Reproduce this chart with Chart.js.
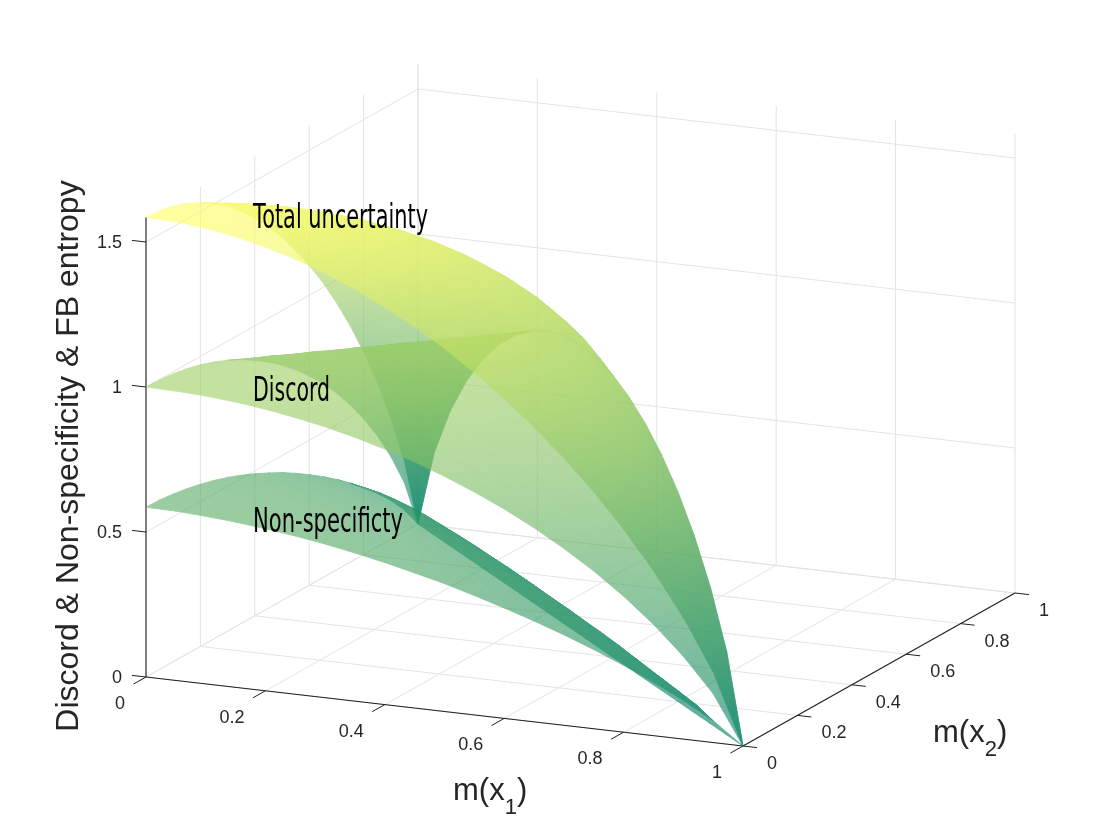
<!DOCTYPE html>
<html><head><meta charset="utf-8">
<script src="https://cdn.jsdelivr.net/npm/chart.js@4.4.1/dist/chart.umd.min.js"></script>
<style>
html,body{margin:0;padding:0;background:#fff;}
#wrap{position:relative;width:1120px;height:840px;background:#fff;overflow:hidden;}
#wrap canvas{position:absolute;left:0;top:0;}
#wrap canvas.surf{opacity:0.62;}
</style></head>
<body><div id="wrap"></div>
<script>
// ---------------- data ----------------
const m1Values = [0,0.05,0.1,0.15,0.2,0.25,0.3,0.35,0.4,0.45,0.5,0.55,0.6,0.65,0.7,0.75,0.8,0.85,0.9,0.95,1];
const m2Values = [0,0.05,0.1,0.15,0.2,0.25,0.3,0.35,0.4,0.45,0.5,0.55,0.6,0.65,0.7,0.75,0.8,0.85,0.9,0.95,1];
// rows: m(x1) = m1Values[i]; columns: m(x2) = m2Values[j], for j <= 20 - i
const totalUncertainty = [
 [1.585,1.582,1.571,1.554,1.530,1.500,1.464,1.421,1.371,1.315,1.252,1.181,1.103,1.017,0.922,0.817,0.700,0.569,0.420,0.244,0.000],
 [1.582,1.581,1.574,1.560,1.540,1.512,1.479,1.439,1.392,1.339,1.279,1.212,1.137,1.054,0.962,0.861,0.748,0.621,0.474,0.286],
 [1.571,1.574,1.570,1.559,1.541,1.517,1.486,1.448,1.404,1.353,1.295,1.230,1.157,1.076,0.985,0.884,0.770,0.639,0.469],
 [1.554,1.560,1.559,1.551,1.535,1.513,1.484,1.448,1.406,1.357,1.300,1.236,1.164,1.083,0.992,0.888,0.768,0.610],
 [1.530,1.540,1.541,1.535,1.522,1.502,1.475,1.441,1.400,1.351,1.296,1.232,1.159,1.076,0.982,0.870,0.722],
 [1.500,1.512,1.517,1.513,1.502,1.483,1.458,1.425,1.385,1.337,1.281,1.216,1.141,1.055,0.951,0.811],
 [1.464,1.479,1.486,1.484,1.475,1.458,1.433,1.401,1.361,1.313,1.256,1.188,1.109,1.014,0.881],
 [1.421,1.439,1.448,1.448,1.441,1.425,1.401,1.369,1.329,1.279,1.219,1.148,1.059,0.934],
 [1.371,1.392,1.404,1.406,1.400,1.385,1.361,1.329,1.287,1.235,1.170,1.089,0.971],
 [1.315,1.339,1.353,1.357,1.351,1.337,1.313,1.279,1.235,1.178,1.104,0.993],
 [1.252,1.279,1.295,1.300,1.296,1.281,1.256,1.219,1.170,1.104,1.000],
 [1.181,1.212,1.230,1.236,1.232,1.216,1.188,1.148,1.089,0.993],
 [1.103,1.137,1.157,1.164,1.159,1.141,1.109,1.059,0.971],
 [1.017,1.054,1.076,1.083,1.076,1.055,1.014,0.934],
 [0.922,0.962,0.985,0.992,0.982,0.951,0.881],
 [0.817,0.861,0.884,0.888,0.870,0.811],
 [0.700,0.748,0.770,0.768,0.722],
 [0.569,0.621,0.639,0.610],
 [0.420,0.474,0.469],
 [0.244,0.286],
 [0.000]
];
const discord = [
 [1.000,0.998,0.993,0.984,0.971,0.954,0.934,0.910,0.881,0.849,0.811,0.769,0.722,0.669,0.610,0.544,0.469,0.384,0.286,0.169,0.000],
 [0.998,1.000,0.998,0.993,0.984,0.971,0.954,0.934,0.910,0.881,0.849,0.811,0.769,0.722,0.669,0.610,0.544,0.469,0.384,0.286],
 [0.993,0.998,1.000,0.998,0.993,0.984,0.971,0.954,0.934,0.910,0.881,0.849,0.811,0.769,0.722,0.669,0.610,0.544,0.469],
 [0.984,0.993,0.998,1.000,0.998,0.993,0.984,0.971,0.954,0.934,0.910,0.881,0.849,0.811,0.769,0.722,0.669,0.610],
 [0.971,0.984,0.993,0.998,1.000,0.998,0.993,0.984,0.971,0.954,0.934,0.910,0.881,0.849,0.811,0.769,0.722],
 [0.954,0.971,0.984,0.993,0.998,1.000,0.998,0.993,0.984,0.971,0.954,0.934,0.910,0.881,0.849,0.811],
 [0.934,0.954,0.971,0.984,0.993,0.998,1.000,0.998,0.993,0.984,0.971,0.954,0.934,0.910,0.881],
 [0.910,0.934,0.954,0.971,0.984,0.993,0.998,1.000,0.998,0.993,0.984,0.971,0.954,0.934],
 [0.881,0.910,0.934,0.954,0.971,0.984,0.993,0.998,1.000,0.998,0.993,0.984,0.971],
 [0.849,0.881,0.910,0.934,0.954,0.971,0.984,0.993,0.998,1.000,0.998,0.993],
 [0.811,0.849,0.881,0.910,0.934,0.954,0.971,0.984,0.993,0.998,1.000],
 [0.769,0.811,0.849,0.881,0.910,0.934,0.954,0.971,0.984,0.993],
 [0.722,0.769,0.811,0.849,0.881,0.910,0.934,0.954,0.971],
 [0.669,0.722,0.769,0.811,0.849,0.881,0.910,0.934],
 [0.610,0.669,0.722,0.769,0.811,0.849,0.881],
 [0.544,0.610,0.669,0.722,0.769,0.811],
 [0.469,0.544,0.610,0.669,0.722],
 [0.384,0.469,0.544,0.610],
 [0.286,0.384,0.469],
 [0.169,0.286],
 [0.000]
];
const nonSpecificity = [
 [0.585,0.584,0.578,0.570,0.559,0.546,0.530,0.511,0.490,0.466,0.441,0.412,0.381,0.348,0.312,0.273,0.231,0.185,0.134,0.075,0.000],
 [0.584,0.581,0.576,0.567,0.556,0.541,0.525,0.505,0.482,0.458,0.430,0.401,0.368,0.332,0.293,0.251,0.204,0.152,0.090,0.000],
 [0.578,0.576,0.570,0.561,0.548,0.533,0.515,0.494,0.470,0.443,0.414,0.381,0.346,0.307,0.263,0.215,0.160,0.095,0.000],
 [0.570,0.567,0.561,0.551,0.537,0.520,0.500,0.477,0.452,0.423,0.390,0.355,0.315,0.272,0.223,0.166,0.099,0.000],
 [0.559,0.556,0.548,0.537,0.522,0.504,0.482,0.457,0.429,0.397,0.362,0.322,0.278,0.227,0.171,0.101,0.000],
 [0.546,0.541,0.533,0.520,0.504,0.483,0.460,0.432,0.401,0.366,0.327,0.282,0.231,0.174,0.102,0.000],
 [0.530,0.525,0.515,0.500,0.482,0.460,0.433,0.403,0.368,0.329,0.285,0.234,0.175,0.104,0.000],
 [0.511,0.505,0.494,0.477,0.457,0.432,0.403,0.369,0.331,0.286,0.235,0.177,0.105,0.000],
 [0.490,0.482,0.470,0.452,0.429,0.401,0.368,0.331,0.287,0.237,0.177,0.105,0.000],
 [0.466,0.458,0.443,0.423,0.397,0.366,0.329,0.286,0.237,0.178,0.106,0.000],
 [0.441,0.430,0.414,0.390,0.362,0.327,0.285,0.235,0.177,0.106,0.000],
 [0.412,0.401,0.381,0.355,0.322,0.282,0.234,0.177,0.105,0.000],
 [0.381,0.368,0.346,0.315,0.278,0.231,0.175,0.105,0.000],
 [0.348,0.332,0.307,0.272,0.227,0.174,0.104,0.000],
 [0.312,0.293,0.263,0.223,0.171,0.102,0.000],
 [0.273,0.251,0.215,0.166,0.101,0.000],
 [0.231,0.204,0.160,0.099,0.000],
 [0.185,0.152,0.095,0.000],
 [0.134,0.090,0.000],
 [0.075,0.000],
 [0.000]
];
const surfaceNames = ['Total uncertainty','Discord','Non-specificty'];
const x1Ticks = [0,0.2,0.4,0.6,0.8,1];
const x1TickLabels = ['0','0.2','0.4','0.6','0.8','1'];
const x2Ticks = [0,0.2,0.4,0.6,0.8,1];
const x2TickLabels = ['0','0.2','0.4','0.6','0.8','1'];
const zTicks = [0,0.5,1,1.5];
const zTickLabels = ['0','0.5','1','1.5'];
const zLimit = 1.585;
const zLabel = 'Discord & Non-specificity & FB entropy';

// ---------------- view / layout ----------------
const VIEW = { ox:146, oy:677, ax:597, ay:69, bx:272, by:-153, cz:-290 };
function proj(a,b,z){ return { x: VIEW.ox + VIEW.ax*a + VIEW.bx*b, y: VIEW.oy + VIEW.ay*a + VIEW.by*b + VIEW.cz*z }; }
const LABELS = [
  {x:253, y:228, w:175},
  {x:253, y:401, w:77},
  {x:253, y:532, w:150}
];
const GRID = '#e3e3e3', AXIS = '#202020';
const W = 1120, H = 840;

function makeCanvas(cls){
  const c = document.createElement('canvas');
  c.width = W; c.height = H;
  if (cls) c.className = cls;
  document.getElementById('wrap').appendChild(c);
  return c;
}
function commonOptions(){
  return {
    responsive:false, animation:false, events:[],
    layout:{padding:0},
    plugins:{legend:{display:false}, tooltip:{enabled:false}},
    scales:{
      x:{type:'linear', min:0, max:W, display:false},
      y:{type:'linear', min:0, max:H, reverse:true, display:false}
    },
    elements:{point:{radius:0}, line:{tension:0}}
  };
}
function px(chart, p){ return { x: chart.scales.x.getPixelForValue(p.x), y: chart.scales.y.getPixelForValue(p.y) }; }
// lower "order" values are drawn on top
function lineDs(p,q,color,w,order){ return { data:[p,q], borderColor:color, borderWidth:w, pointRadius:0, fill:false, tension:0, borderCapStyle:'butt', order:order }; }

// ---------------- base chart: grid, axes, ticks, labels ----------------
const baseDatasets = [];
x1Ticks.forEach(a => baseDatasets.push(lineDs(proj(a,0,0), proj(a,1,0), GRID, 1, 2)));
x2Ticks.forEach(b => baseDatasets.push(lineDs(proj(0,b,0), proj(1,b,0), GRID, 1, 2)));
x2Ticks.forEach(b => baseDatasets.push(lineDs(proj(0,b,0), proj(0,b,zLimit), GRID, 1, 2)));
zTicks.forEach(z => baseDatasets.push(lineDs(proj(0,0,z), proj(0,1,z), GRID, 1, 2)));
x1Ticks.forEach(a => baseDatasets.push(lineDs(proj(a,1,0), proj(a,1,zLimit), GRID, 1, 2)));
zTicks.forEach(z => baseDatasets.push(lineDs(proj(0,1,z), proj(1,1,z), GRID, 1, 2)));
baseDatasets.push(lineDs(proj(0,0,0), proj(1,0,0), AXIS, 1.1, 1));
baseDatasets.push(lineDs(proj(1,0,0), proj(1,1,0), AXIS, 1.1, 1));
baseDatasets.push(lineDs(proj(0,0,0), proj(0,0,zLimit), AXIS, 1.1, 1));
zTicks.forEach(z => baseDatasets.push(lineDs(proj(0,0,z), proj(-0.0235,0,z), AXIS, 1, 1)));
x1Ticks.forEach(a => baseDatasets.push(lineDs(proj(a,0,0), proj(a,-0.046,0), AXIS, 1, 1)));
x2Ticks.forEach(b => baseDatasets.push(lineDs(proj(1,b,0), proj(1.0235,b,0), AXIS, 1, 1)));

const FONT = '"Liberation Sans", Arial, Helvetica, sans-serif';
function drawSubLabel(ctx, x, y, main, sub, size){
  ctx.textAlign = 'left'; ctx.textBaseline = 'alphabetic';
  ctx.font = size + 'px ' + FONT;
  ctx.fillText(main, x, y);
  let cx = x + ctx.measureText(main).width;
  ctx.font = Math.round(size*0.72) + 'px ' + FONT;
  ctx.fillText(sub, cx, y + 14);
  cx += ctx.measureText(sub).width;
  ctx.font = size + 'px ' + FONT;
  ctx.fillText(')', cx, y);
}
const axisText = {
  id:'axisText',
  afterDatasetsDraw(chart){
    const ctx = chart.ctx;
    ctx.save();
    ctx.fillStyle = '#262626';
    ctx.font = '18px ' + FONT;
    ctx.textBaseline = 'middle';
    ctx.textAlign = 'right';
    zTicks.forEach((z,i) => { const p = px(chart, proj(0,0,z)); ctx.fillText(zTickLabels[i], p.x-24, p.y+1); });
    x1Ticks.forEach((a,i) => { const p = px(chart, proj(a,0,0)); ctx.fillText(x1TickLabels[i], p.x-21, p.y+27); });
    ctx.textAlign = 'left';
    x2Ticks.forEach((b,i) => { const p = px(chart, proj(1,b,0)); ctx.fillText(x2TickLabels[i], p.x+24, p.y+18); });
    const zl = px(chart, {x:69, y:456});
    ctx.save();
    ctx.translate(zl.x, zl.y); ctx.rotate(-Math.PI/2);
    ctx.textAlign = 'center'; ctx.textBaseline = 'middle';
    ctx.font = '32px ' + FONT;
    ctx.fillText(zLabel, 0, 0);
    ctx.restore();
    const l1 = px(chart, {x:453, y:800});
    drawSubLabel(ctx, l1.x, l1.y, 'm(x', '1', 31);
    const l2 = px(chart, {x:933, y:742});
    drawSubLabel(ctx, l2.x, l2.y, 'm(x', '2', 31);
    ctx.restore();
  }
};
new Chart(makeCanvas(), { type:'line', data:{datasets:baseDatasets}, options:commonOptions(), plugins:[axisText] });

// ---------------- surfaces ----------------
function summer(t){
  t = Math.max(0, Math.min(1, t));
  return 'rgb(' + Math.round(255*t) + ',' + Math.round(255*(0.5+0.5*t)) + ',102)';
}
function shade(chart, tri){
  const zs = tri.map(v => v.z);
  const zlo = Math.min(...zs), zhi = Math.max(...zs);
  const flat = summer((zlo+zhi)/2/zLimit);
  if (!chart || !chart.scales || !chart.scales.x || !chart.chartArea) return flat;
  const P = tri.map(v => { const q = px(chart, proj(v.a, v.b, v.z)); return {x:q.x, y:q.y, z:v.z}; });
  const e1x = P[1].x-P[0].x, e1y = P[1].y-P[0].y, e2x = P[2].x-P[0].x, e2y = P[2].y-P[0].y;
  const dz1 = P[1].z-P[0].z, dz2 = P[2].z-P[0].z;
  const det = e1x*e2y - e1y*e2x;
  if (Math.abs(det) < 1e-6 || zhi-zlo < 1e-6) return flat;
  const gx = (dz1*e2y - dz2*e1y)/det, gy = (dz2*e1x - dz1*e2x)/det;
  const g2 = gx*gx + gy*gy;
  if (g2 < 1e-14) return flat;
  const kA = (zlo-P[0].z)/g2, kB = (zhi-P[0].z)/g2;
  const grad = chart.ctx.createLinearGradient(P[0].x+gx*kA, P[0].y+gy*kA, P[0].x+gx*kB, P[0].y+gy*kB);
  grad.addColorStop(0, summer(zlo/zLimit));
  grad.addColorStop(1, summer(zhi/zLimit));
  return grad;
}
function meshTriangles(Z){
  const V = (i,j) => ({a:m1Values[i], b:m2Values[j], z:Z[i][j]});
  const tris = [];
  for (let i = 0; i < Z.length-1; i++){
    for (let j = 0; j < Z[i].length-1; j++){
      tris.push([V(i,j), V(i+1,j), V(i,j+1)]);
      if (j+1 < Z[i+1].length) tris.push([V(i+1,j), V(i+1,j+1), V(i,j+1)]);
    }
  }
  return tris;
}
function facing(tri){
  const P = tri.map(v => proj(v.a, v.b, v.z));
  const cr = (P[1].x-P[0].x)*(P[2].y-P[0].y) - (P[1].y-P[0].y)*(P[2].x-P[0].x);
  return cr < 0 ? 'front' : 'back';
}
const surfaceData = [totalUncertainty, discord, nonSpecificity];
const layerOrder = [[0,'back'],[1,'back'],[2,'back'],[2,'front'],[1,'front'],[0,'front']];
layerOrder.forEach(([s, side]) => {
  const tris = meshTriangles(surfaceData[s]).filter(t => facing(t) === side);
  const ds = tris.map(tri => {
    const pts = tri.map(v => proj(v.a, v.b, v.z));
    return {
      data: [pts[0], pts[1], pts[2], pts[0]],
      fill: 'shape',
      backgroundColor: c => shade(c.chart, tri),
      borderColor: c => shade(c.chart, tri),
      borderWidth: 0.9,
      borderJoinStyle: 'round',
      pointRadius: 0,
      tension: 0
    };
  });
  new Chart(makeCanvas('surf'), { type:'line', data:{datasets:ds}, options:commonOptions() });
});

// ---------------- surface name labels ----------------
const nameText = {
  id:'nameText',
  afterDraw(chart){
    const ctx = chart.ctx;
    ctx.save();
    ctx.fillStyle = '#000';
    ctx.font = '34px "DejaVu Sans", sans-serif';
    ctx.textAlign = 'left'; ctx.textBaseline = 'alphabetic';
    surfaceNames.forEach((name, i) => {
      const L = LABELS[i];
      const p = px(chart, {x:L.x, y:L.y});
      const w = ctx.measureText(name).width;
      ctx.save();
      ctx.translate(p.x, p.y);
      ctx.scale(L.w / w, 1);
      ctx.fillText(name, 0, 0);
      ctx.restore();
    });
    ctx.restore();
  }
};
new Chart(makeCanvas(), { type:'line', data:{datasets:[]}, options:commonOptions(), plugins:[nameText] });
</script>
</body></html>
